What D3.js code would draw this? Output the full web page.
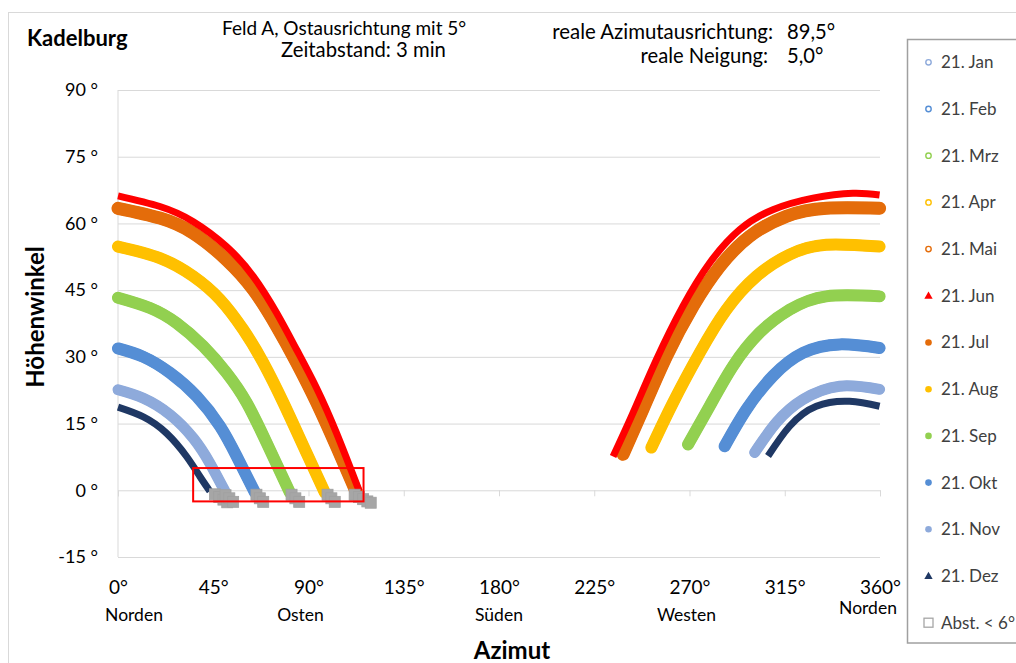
<!DOCTYPE html>
<html><head><meta charset="utf-8">
<script src="https://cdn.jsdelivr.net/npm/d3@7"></script>
<style>
body{margin:0;background:#fff;}
svg{display:block;font-family:Lato,"Open Sans",sans-serif;}
</style></head>
<body>
<svg id="c" width="1016" height="663"></svg>
<script>
// ---------- data ----------
const months = ["21. Jan","21. Feb","21. Mrz","21. Apr","21. Mai","21. Jun","21. Jul","21. Aug","21. Sep","21. Okt","21. Nov","21. Dez"];
const grayLabel = "Abst. < 6°";
const xTicks = [0,45,90,135,180,225,270,315,360];
const yTicks = [-15,0,15,30,45,60,75,90];
const dirNames = ["Norden","Osten","Süden","Westen","Norden"];
const dirAz = [0,90,180,270,360];

// [azimut, höhenwinkel] – bands (paired months overlap in the picture)
const junLeft  = [[0,66.2],[19.8,63.8],[35.6,60.4],[51.3,54.8],[63.9,48.1],[74.9,39.9],[84.4,31.6],[93.8,23.0],[103.3,12.8],[114,-0.2]];
const junRight = [[233.9,7.6],[243.3,17.4],[254.4,29.4],[266.9,41.4],[279.5,51.1],[293.7,58.6],[309.4,63.1],[328.3,65.7],[347.2,66.8],[359.8,66.4]];
const julLeft  = [[0,63.4],[19.8,61.2],[35.6,57.8],[51.3,51.8],[63.9,45.1],[74.9,36.9],[84.4,28.7],[93.8,19.8],[103.3,9.8],[112.5,-0.3]];
const julRight = [[238.6,8.1],[248,18.2],[259.1,30.1],[271.7,41.4],[284.3,50.3],[298.4,57.1],[315.7,61.6],[334.6,63.4],[359.8,63.4]];
const augLeft  = [[0,54.8],[19.8,52.2],[35.6,48.1],[48.2,42.9],[59.2,36.1],[68.6,28.7],[78.1,19.7],[87.5,10],[97.7,-0.5]];
const augRight = [[252,9.6],[262.2,19.7],[274.8,30.9],[287.4,40.6],[301.6,48.1],[317.3,53.0],[334.6,55.2],[359.8,54.8]];
const sepLeft  = [[0,43.3],[15.1,41.0],[27.7,37.6],[40.3,32.4],[51.3,26.4],[60.8,19.7],[70.2,10.7],[81.2,-0.5]];
const sepRight = [[269.3,10.3],[279.5,18.9],[290.5,27.9],[303.1,35.4],[317.3,40.6],[334.6,43.6],[359.8,43.6]];
const oktLeft  = [[0,31.9],[12,30],[24.6,26.4],[37.2,21.1],[48.2,14.4],[56,7.7],[64.7,-0.5]];
const oktRight = [[286.6,9.9],[296.9,18.2],[309.4,25.7],[323.6,30.9],[340.9,32.8],[359.8,32.0]];
const novLeft  = [[0,22.6],[12,20.7],[24.6,17.0],[35.6,11.7],[43.4,6.1],[50.5,-0.2]];
const novRight = [[300.8,8.5],[311,15.2],[323.6,20.4],[340.9,23.4],[359.8,22.7]];
const dezLeft  = [[0,18.7],[12,16.5],[23,12.8],[32.4,7.6],[38.7,3.1],[43.4,-0.2]];
const dezRight = [[307.1,7.7],[317.3,14.4],[329.9,18.9],[345.6,20.0],[359.8,18.9]];
// "Abst. < 6°" points
const grayPts = [[45.8,-0.9],[47.8,-1.5],[49.8,-2.1],[51.6,-2.7],[50.8,-1.1],[52.6,-1.8],[54.4,-2.6],
  [65.4,-1.0],[67.0,-1.8],[68.6,-2.6],[82.0,-1.0],[83.8,-1.8],[85.6,-2.6],
  [99.0,-1.0],[100.8,-1.8],[102.4,-2.6],[111.8,-1.0],[113.8,-1.5],[115.8,-2.0],[117.8,-2.5],[119.4,-2.8]];
// highlighted box [az0, az1, alt0, alt1]
const box = [35.5, 116, -2.5, 5];

// ---------- styling ----------
const C = {nav:"#1F3864", lb:"#8EAADB", bl:"#558ED5", gr:"#92D050", ye:"#FFC000", or:"#E46C0A", rd:"#FF0000"};
const series = [
  {name:months[0],  color:C.lb, hollow:true,  parts:[novLeft,novRight], w:10},
  {name:months[1],  color:C.bl, hollow:true,  parts:[oktLeft,oktRight], w:11},
  {name:months[2],  color:C.gr, hollow:true,  parts:[sepLeft,sepRight], w:11},
  {name:months[3],  color:C.ye, hollow:true,  parts:[augLeft,augRight], w:11},
  {name:months[4],  color:C.or, hollow:true,  parts:[julLeft,julRight], w:12},
  {name:months[5],  color:C.rd, tri:true,     parts:[junLeft,junRight], w:7},
  {name:months[6],  color:C.or,               parts:[julLeft,julRight], w:12},
  {name:months[7],  color:C.ye,               parts:[augLeft,augRight], w:11},
  {name:months[8],  color:C.gr,               parts:[sepLeft,sepRight], w:11},
  {name:months[9],  color:C.bl,               parts:[oktLeft,oktRight], w:11},
  {name:months[10], color:C.lb,               parts:[novLeft,novRight], w:10},
  {name:months[11], color:C.nav, tri:true,    parts:[dezLeft,dezRight], w:7}
];
const drawOrder = [0,1,2,3,4,6,7,8,9,10,5,11];

const svg = d3.select("#c");
const x = d3.scaleLinear().domain([0,360]).range([118,880]);
const y = d3.scaleLinear().domain([-15,90]).range([557,90]);

// outer chart frame
svg.append("rect").attr("x",8.5).attr("y",12.5).attr("width",1100).attr("height",700)
  .attr("fill","none").attr("stroke","#d9d9d9");

// gridlines
svg.append("g").attr("transform",`translate(${x(0)},0)`)
  .call(d3.axisLeft(y).tickValues(yTicks.filter(d=>d!==0)).tickSize(-(x(360)-x(0))).tickFormat(""))
  .call(g=>g.select(".domain").remove())
  .call(g=>g.selectAll("line").attr("stroke","#d9d9d9"));
svg.append("line").attr("x1",x(0)).attr("x2",x(0)).attr("y1",y(90)).attr("y2",y(-15)).attr("stroke","#d9d9d9");
svg.append("g").attr("transform",`translate(${x(0)},0)`)
  .call(d3.axisLeft(y).tickValues(yTicks).tickSize(0).tickPadding(20).tickFormat(d=>d+" °"))
  .call(g=>g.select(".domain").remove())
  .call(g=>g.selectAll("text").attr("font-size",18).attr("fill","#000").attr("font-family","Lato"));
svg.append("g").attr("transform",`translate(0,${y(0)})`)
  .call(d3.axisBottom(x).tickValues(xTicks).tickSize(6).tickFormat(""))
  .call(g=>g.select(".domain").attr("stroke","#d9d9d9"))
  .call(g=>g.selectAll("line").attr("stroke","#d9d9d9"));
svg.append("g").attr("transform",`translate(0,${y(-15)})`)
  .call(d3.axisBottom(x).tickValues(xTicks).tickSize(0).tickPadding(24).tickFormat(d=>d+"°"))
  .call(g=>g.select(".domain").remove())
  .call(g=>g.selectAll("text").attr("font-size",19).attr("fill","#000").attr("font-family","Lato"));
const dirDx = [16,-8,0,-3,-12], dirY=[621,621,621,621,614];
svg.append("g").selectAll("text").data(dirNames).join("text")
  .attr("x",(d,i)=>x(dirAz[i])+dirDx[i]).attr("y",(d,i)=>dirY[i])
  .attr("text-anchor","middle").attr("font-size",17.5).text(d=>d);

// series
const line = d3.line().x(d=>x(d[0])).y(d=>y(d[1])).curve(d3.curveNatural);
const gS = svg.append("g");
drawOrder.forEach(i=>{
  const s = series[i];
  s.parts.forEach(p=>{
    gS.append("path").attr("d",line(p)).attr("fill","none")
      .attr("stroke",s.color).attr("stroke-width",s.hollow? s.w+1 : s.w)
      .attr("stroke-linecap", s.tri ? "butt" : "round").attr("stroke-linejoin","round");
  });
});
// gray squares
svg.append("g").selectAll("rect").data(grayPts).join("rect")
  .attr("x",d=>x(d[0])-5.5).attr("y",d=>y(d[1])-5.5).attr("width",11).attr("height",11)
  .attr("fill","#a6a6a6").attr("stroke","#a0a0a0").attr("stroke-width",0.8);
// red box
svg.append("rect").attr("x",x(box[0])).attr("y",y(box[3]))
  .attr("width",x(box[1])-x(box[0])).attr("height",y(box[2])-y(box[3]))
  .attr("fill","none").attr("stroke","#FF0000").attr("stroke-width",2);

// titles
svg.append("text").attr("x",222).attr("y",35).attr("font-size",19).text("Feld A, Ostausrichtung mit 5°");
svg.append("text").attr("x",27).attr("y",46).attr("font-size",22).attr("font-weight","bold").text("Kadelburg");
svg.append("text").attr("x",281).attr("y",57).attr("font-size",20.3).text("Zeitabstand: 3 min");
svg.append("text").attr("x",773).attr("y",39).attr("font-size",20.4).attr("text-anchor","end").text("reale Azimutausrichtung:");
svg.append("text").attr("x",787).attr("y",39).attr("font-size",20.2).text("89,5°");
svg.append("text").attr("x",768).attr("y",63).attr("font-size",20.2).attr("text-anchor","end").text("reale Neigung:");
svg.append("text").attr("x",787).attr("y",63).attr("font-size",20.2).text("5,0°");
svg.append("text").attr("x",512).attr("y",659).attr("text-anchor","middle").attr("font-size",24).attr("font-weight","bold").text("Azimut");
svg.append("text").attr("transform","translate(44,317) rotate(-90)").attr("text-anchor","middle").attr("font-size",24).attr("font-weight","bold").text("Höhenwinkel");

// legend
const lg = svg.append("g");
lg.append("rect").attr("x",907.5).attr("y",39.5).attr("width",130).attr("height",603.5)
  .attr("fill","#fff").attr("stroke","#a0a0a0").attr("stroke-width",1.5);
const legItems = series.map(s=>({name:s.name,color:s.color,hollow:s.hollow,tri:s.tri}));
legItems.push({name:grayLabel,color:"#a6a6a6",square:true});
legItems.forEach((it,i)=>{
  const cy = 62.3 + i*46.7, cx = 928.5;
  if(it.square){
    lg.append("rect").attr("x",cx-4.5).attr("y",cy-4.5).attr("width",9).attr("height",9)
      .attr("fill","#fff").attr("stroke","#a6a6a6").attr("stroke-width",1.3);
  } else if(it.tri){
    lg.append("path").attr("d",d3.symbol(d3.symbolTriangle,30)()).attr("transform",`translate(${cx},${cy+0.5})`).attr("fill",it.color);
  } else if(it.hollow){
    lg.append("circle").attr("cx",cx).attr("cy",cy).attr("r",2.7).attr("fill","#fff").attr("stroke",it.color).attr("stroke-width",1.4);
  } else {
    lg.append("circle").attr("cx",cx).attr("cy",cy).attr("r",3.3).attr("fill",it.color);
  }
  lg.append("text").attr("x",941).attr("y",cy).attr("dy","0.35em").attr("font-size",17).attr("fill","#404040").text(it.name);
});
</script>
</body></html>
